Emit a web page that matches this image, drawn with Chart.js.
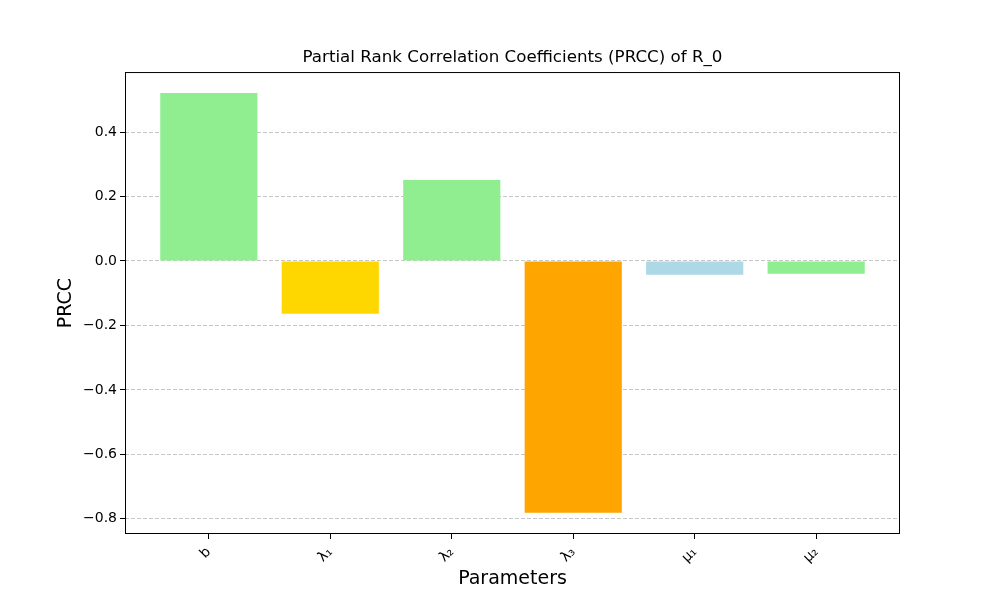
<!DOCTYPE html>
<html>
<head>
<meta charset="utf-8">
<script src="https://cdn.jsdelivr.net/npm/chart.js@4/dist/chart.umd.min.js"></script>
<style>
  html, body { margin: 0; padding: 0; background: #fff; }
  #wrap { width: 1000px; height: 600px; }
</style>
</head>
<body>
<div id="wrap"><canvas id="prccChart"></canvas></div>
<script>
// Parâmetros e valores PRCC
const params = ['b', 'λ₁', 'λ₂', 'λ₃', 'μ₁', 'μ₂'];
const prcc = [0.521, -0.164, 0.251, -0.781, -0.043, -0.040];
const barColors = ['#90EE90', '#FFD700', '#90EE90', '#FFA500', '#ADD8E6', '#90EE90'];
const yTicks = [-0.8, -0.6, -0.4, -0.2, 0.0, 0.2, 0.4];

// Moldura preta em volta da área do gráfico (como os spines do matplotlib)
const framePlugin = {
    id: 'frame',
    afterDraw(chart) {
        const a = chart.chartArea;
        const ctx = chart.ctx;
        ctx.save();
        ctx.strokeStyle = '#000';
        ctx.lineWidth = 1;
        ctx.strokeRect(a.left + 0.5, a.top + 0.5, a.right - a.left - 1, a.bottom - a.top - 1);
        ctx.restore();
    }
};

function initChart() {
    const ctx = document.getElementById('prccChart');
    new Chart(ctx, {
        type: 'bar',
        data: {
            datasets: [{
                label: 'PRCC',
                data: prcc.map((v, i) => ({ x: i, y: v })),
                backgroundColor: barColors,
                borderWidth: 0,
                barPercentage: 0.8,
                categoryPercentage: 1.0
            }]
        },
        options: {
            responsive: true,
            maintainAspectRatio: false,
            animation: false,
            layout: { padding: { left: 0, right: 100, top: 48, bottom: 0 } },
            plugins: {
                legend: { display: false },
                tooltip: { enabled: false },
                title: {
                    display: true,
                    fullSize: false,
                    text: 'Partial Rank Correlation Coefficients (PRCC) of R_0',
                    color: '#000',
                    font: { family: "'DejaVu Sans', sans-serif", size: 16.7, weight: 'normal' },
                    padding: { top: 0, bottom: 4 }
                }
            },
            scales: {
                x: {
                    type: 'linear',
                    min: -0.69,
                    max: 5.69,
                    offset: false,
                    afterFit(scale) { scale.height = 66; },
                    afterBuildTicks(scale) {
                        scale.ticks = params.map((p, i) => ({ value: i }));
                    },
                    grid: { offset: false, drawOnChartArea: false, drawTicks: true, tickLength: 5, tickColor: '#000' },
                    border: { display: false },
                    ticks: {
                        color: '#000',
                        font: { family: "'DejaVu Sans', sans-serif", size: 14 },
                        maxRotation: 45,
                        minRotation: 45,
                        padding: 5,
                        callback: (v) => params[v]
                    },
                    title: {
                        display: true,
                        text: 'Parameters',
                        color: '#000',
                        font: { family: "'DejaVu Sans', sans-serif", size: 19 },
                        padding: { top: 0, bottom: 10 }
                    }
                },
                y: {
                    min: -0.847,
                    max: 0.586,
                    afterFit(scale) { scale.width = 125; },
                    afterBuildTicks(scale) {
                        scale.ticks = yTicks.map(v => ({ value: v }));
                    },
                    grid: {
                        color: '#c6c6c6',
                        lineWidth: 1,
                        drawTicks: true,
                        tickLength: 5,
                        tickColor: '#000',
                        tickBorderDash: []
                    },
                    border: { display: false, dash: [4, 2] },
                    ticks: {
                        color: '#000',
                        font: { family: "'DejaVu Sans', sans-serif", size: 14 },
                        padding: 3,
                        callback: (v) => v.toFixed(1).replace('-', '\u2212')
                    },
                    title: {
                        display: true,
                        text: 'PRCC',
                        color: '#000',
                        font: { family: "'DejaVu Sans', sans-serif", size: 19 },
                        padding: { top: 55, bottom: 0 }
                    }
                }
            }
        },
        plugins: [framePlugin]
    });
}

initChart();
</script>
</body>
</html>
